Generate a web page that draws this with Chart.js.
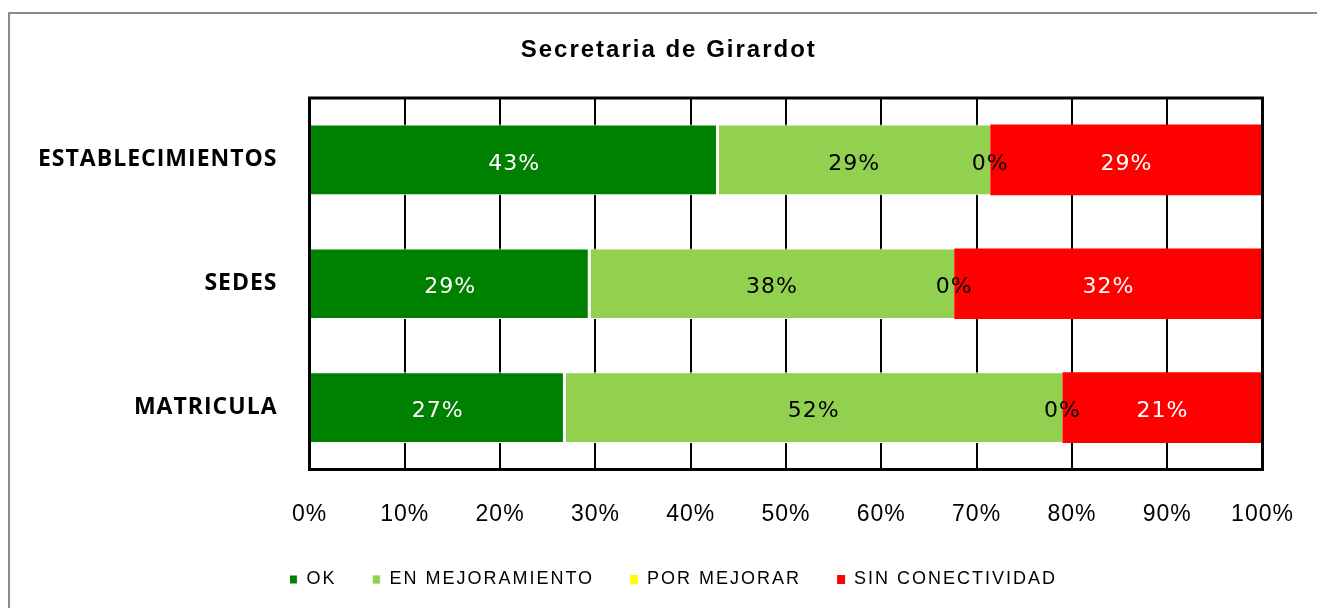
<!DOCTYPE html>
<html lang="es">
<head>
<meta charset="UTF-8">
<title>Secretaria de Girardot</title>
<script src="https://cdn.jsdelivr.net/npm/chart.js"></script>
<style>
  html, body { margin: 0; padding: 0; background: #fff; overflow: hidden; }
  .frame { position: absolute; left: 8px; top: 12px; width: 1400px; height: 700px; border: 2px solid #8c8c8c; }
  .wrap { position: absolute; left: 0; top: 0; width: 1317px; height: 608px; }
</style>
</head>
<body>
<div class="frame"></div>
<div class="wrap"><canvas id="chart"></canvas></div>
<script>
  const categories = ['ESTABLECIMIENTOS', 'SEDES', 'MATRICULA'];
  const seriesNames = ['OK', 'EN MEJORAMIENTO', 'POR MEJORAR', 'SIN CONECTIVIDAD'];
  const ok = [42.86, 29.41, 26.8];
  const enMejoramiento = [28.57, 38.24, 52.2];
  const porMejorar = [0, 0, 0];
  const sinConectividad = [28.57, 32.35, 21.0];
  const xTickValues = [0, 10, 20, 30, 40, 50, 60, 70, 80, 90, 100];

  const colors = ['#008000', '#92D050', '#FFFF00', '#FF0000'];
  const labelColors = ['#ffffff', '#000000', '#000000', '#ffffff'];
  const borders = [
    { top: 1, right: 2, bottom: 1, left: 0 },
    { top: 1, right: 0, bottom: 1, left: 1 },
    0,
    0
  ];

  const seriesValues = [ok, enMejoramiento, porMejorar, sinConectividad];
  const datasets = seriesValues.map((vals, i) => ({
    label: seriesNames[i],
    data: vals,
    backgroundColor: colors[i],
    borderColor: '#ffffff',
    borderWidth: borders[i],
    borderSkipped: false
  }));

  // Excel draws its text a bit spaced out
  const spacing = {
    id: 'spacing',
    beforeLayout(chart) { chart.ctx.letterSpacing = '2px'; },
    afterLayout(chart) {
      // title and legend sit centred on the plot, not on the whole canvas
      chart.titleBlock.left = 75;
      chart.legend.left = 84;
    },
    beforeDraw(chart) { chart.ctx.letterSpacing = '2px'; },
    beforeDatasetsDraw(chart) { chart.ctx.letterSpacing = '1px'; }
  };

  const barLabels = {
    id: 'barLabels',
    afterDatasetsDraw(chart) {
      const ctx = chart.ctx;
      const a = chart.chartArea;
      ctx.save();
      ctx.strokeStyle = '#000';
      ctx.lineWidth = 3;
      ctx.strokeRect(a.left, a.top, a.right - a.left, a.bottom - a.top);
      ctx.font = '22px "DejaVu Sans"';
      ctx.textAlign = 'center';
      ctx.textBaseline = 'middle';
      chart.data.datasets.forEach((ds, i) => {
        chart.getDatasetMeta(i).data.forEach((bar, j) => {
          ctx.fillStyle = labelColors[i];
          ctx.fillText(Math.round(ds.data[j]) + '%', (bar.x + bar.base) / 2, bar.y + 4);
        });
      });
      ctx.restore();
    }
  };

  new Chart(document.getElementById('chart'), {
    type: 'bar',
    data: { labels: categories, datasets: datasets },
    options: {
      indexAxis: 'y',
      responsive: true,
      maintainAspectRatio: false,
      animation: false,
      barPercentage: 0.57,
      categoryPercentage: 1,
      layout: { padding: { top: 0, left: 0, right: 54.5, bottom: 9.5 } },
      plugins: {
        title: {
          display: true,
          text: 'Secretaria de Girardot',
          color: '#000',
          font: { family: 'Liberation Sans', size: 24, weight: 'bold' },
          padding: { top: 35.6, bottom: 33.6 }
        },
        legend: {
          position: 'bottom',
          labels: {
            boxWidth: 8,
            boxHeight: 9,
            padding: 36,
            color: '#000',
            font: { family: 'Liberation Sans', size: 18 }
          }
        },
        tooltip: { enabled: false }
      },
      scales: {
        x: {
          stacked: true,
          min: 0,
          max: 100,
          afterBuildTicks: s => { s.ticks = xTickValues.map(v => ({ value: v })); },
          afterFit: s => { s.height = 65; },
          grid: { color: '#000', lineWidth: 2, drawTicks: true, tickLength: 31, tickColor: 'rgba(0,0,0,0)' },
          border: { display: false },
          ticks: {
            z: 1,
            padding: 0,
            color: '#000',
            font: { family: 'Liberation Sans', size: 23 },
            callback: v => v + '%'
          }
        },
        y: {
          stacked: true,
          afterFit: s => { s.width = 309.5; },
          grid: { display: false, drawTicks: false },
          border: { display: false },
          ticks: {
            z: 1,
            padding: 32,
            color: '#000',
            font: { family: 'Open Sans', size: 23, weight: 'bold' }
          }
        }
      }
    },
    plugins: [spacing, barLabels]
  });
</script>
</body>
</html>
